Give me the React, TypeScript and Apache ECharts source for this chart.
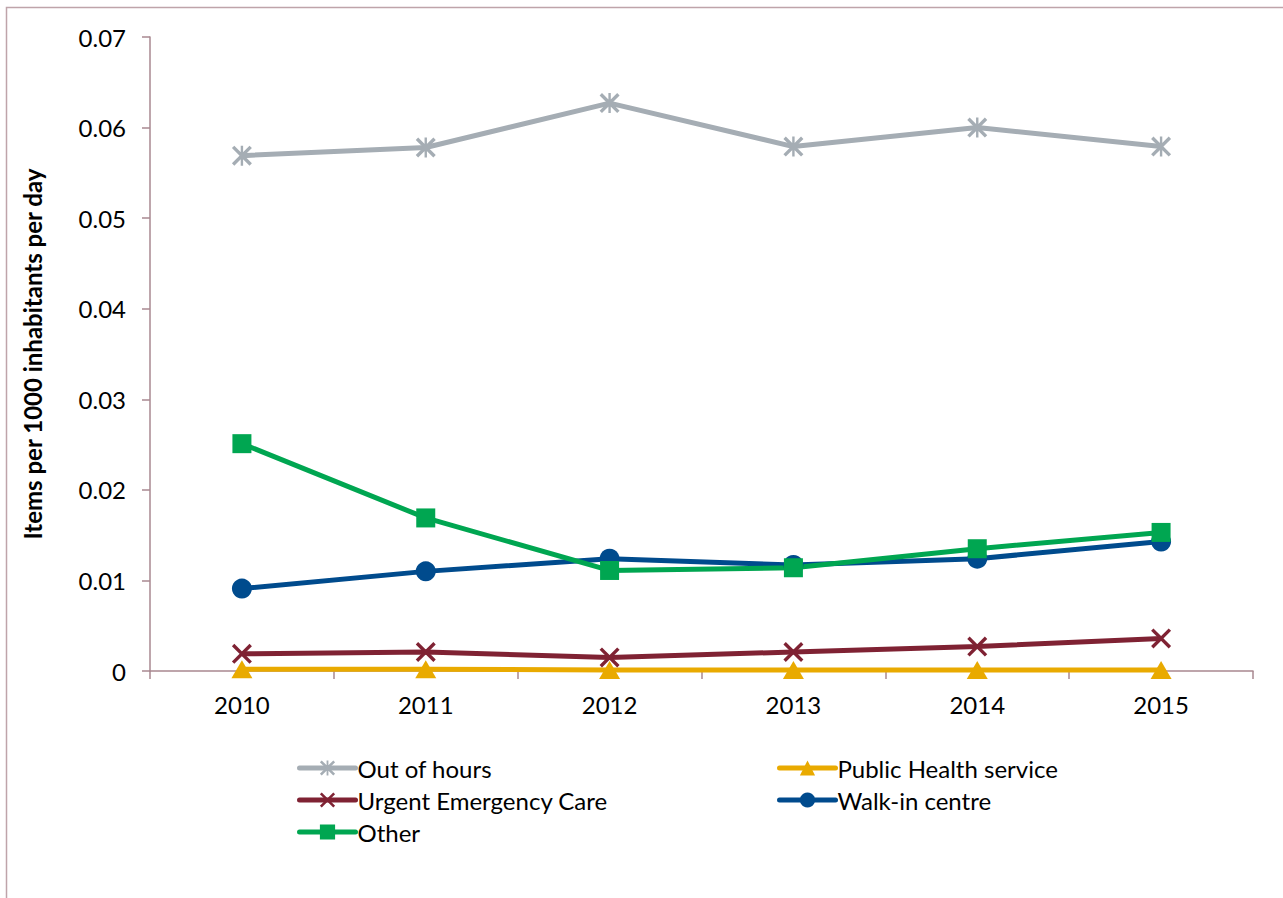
import React, { useEffect, useRef } from "react";
import * as echarts from "echarts";

const years = ["2010", "2011", "2012", "2013", "2014", "2015"];
const outOfHours = [0.0569, 0.0578, 0.0627, 0.0579, 0.06, 0.0579];
const publicHealth = [0.0002, 0.0002, 0.0001, 0.0001, 0.0001, 0.0001];
const urgentCare = [0.0019, 0.0021, 0.0015, 0.0021, 0.0027, 0.0036];
const walkIn = [0.0091, 0.011, 0.0124, 0.0117, 0.0124, 0.0143];
const other = [0.0251, 0.0169, 0.0111, 0.0114, 0.0135, 0.0153];

const FONT = "Lato";
const X_PATH = "path://M0,1.2 L1.2,0 L10,8.8 L8.8,10 Z M8.8,0 L10,1.2 L1.2,10 L0,8.8 Z";
const STAR_PATH =
  "path://M0,1.2 L1.2,0 L10,8.8 L8.8,10 Z M8.8,0 L10,1.2 L1.2,10 L0,8.8 Z M4.4,0 L5.6,0 L5.6,10 L4.4,10 Z";

export default function App() {
  const ref = useRef<HTMLDivElement>(null);
  useEffect(() => {
    if (!ref.current) return;
    const chart = echarts.init(ref.current, null, { renderer: "svg" });
    const mk = (name: string, data: number[], color: string, symbol: string, size: number | number[]) => ({
      name,
      type: "line",
      data,
      symbol,
      symbolSize: size,
      showAllSymbol: true,
      lineStyle: { color, width: 5 },
      itemStyle: { color, borderWidth: 0 },
      emphasis: { disabled: true },
    });
    const legendCommon = {
      orient: "vertical",
      top: 751,
      itemWidth: 56,
      itemHeight: 19,
      itemGap: 8,
      lineStyle: { width: 5, cap: "round" },
      textStyle: { fontFamily: FONT, fontSize: 24, color: "#000", padding: [0, 0, 0, -3] },
    };
    chart.setOption({
      animation: false,
      backgroundColor: "#ffffff",
      textStyle: { fontFamily: FONT },
      graphic: [
        {
          type: "rect",
          shape: { x: 6.5, y: 7.5, width: 1400, height: 1000 },
          style: { fill: "none", stroke: "#bfa4aa", lineWidth: 1.5 },
          silent: true,
        },
      ],
      grid: { left: 150, top: 37, right: 30, bottom: 227, containLabel: false },
      legend: [
        { ...legendCommon, data: ["Out of hours", "Urgent Emergency Care", "Other"], left: 292 },
        { ...legendCommon, data: ["Public Health service", "Walk-in centre"], left: 772 },
      ],
      xAxis: {
        type: "category",
        data: years,
        boundaryGap: true,
        axisLine: { lineStyle: { color: "#a98890", width: 1.5 } },
        axisTick: { show: true, length: 8, lineStyle: { color: "#a98890", width: 1.5 } },
        axisLabel: { fontFamily: FONT, fontSize: 24, color: "#000", margin: 21 },
      },
      yAxis: {
        type: "value",
        min: 0,
        max: 0.07,
        interval: 0.01,
        name: "Items per 1000 inhabitants per day",
        nameLocation: "middle",
        nameGap: 106,
        nameTextStyle: { fontFamily: FONT, fontSize: 24, fontWeight: "bold", color: "#000" },
        axisLine: { show: true, lineStyle: { color: "#a98890", width: 1.5 } },
        axisTick: { show: true, length: 8, lineStyle: { color: "#a98890", width: 1.5 } },
        splitLine: { show: false },
        axisLabel: { fontFamily: FONT, fontSize: 24, color: "#000", margin: 24 },
      },
      series: [
        mk("Out of hours", outOfHours, "#a5adb4", STAR_PATH, 20),
        mk("Public Health service", publicHealth, "#e9aa00", "triangle", [21, 18]),
        mk("Urgent Emergency Care", urgentCare, "#7f2233", X_PATH, 20),
        mk("Walk-in centre", walkIn, "#004b8d", "circle", 20),
        mk("Other", other, "#00a651", "rect", 19),
      ],
    });
    return () => chart.dispose();
  }, []);
  return (
    <div
      ref={ref}
      style={{ position: "absolute", left: 0, top: 0, width: 1283, height: 898 }}
    />
  );
}
